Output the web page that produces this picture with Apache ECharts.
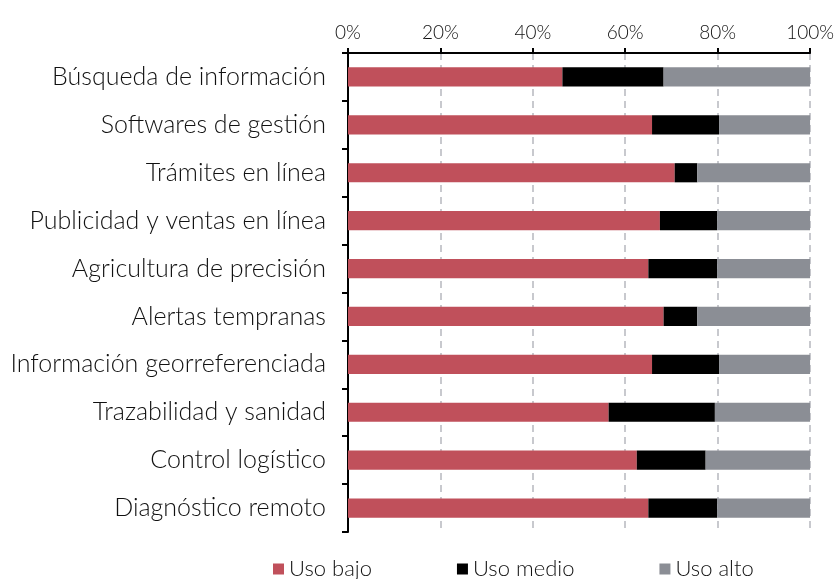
<!DOCTYPE html>
<html>
<head>
<meta charset="utf-8">
<script src="https://cdn.jsdelivr.net/npm/echarts@6/dist/echarts.min.js"></script>
<style>
  html, body { margin: 0; padding: 0; background: #ffffff; }
  #chart { width: 837px; height: 579px; }
</style>
</head>
<body>
<div id="chart"></div>
<script>
// Uso de herramientas digitales por tipo de aplicación (% de respuestas)
const categories = [
  'Búsqueda de información',
  'Softwares de gestión',
  'Trámites en línea',
  'Publicidad y ventas en línea',
  'Agricultura de precisión',
  'Alertas tempranas',
  'Información georreferenciada',
  'Trazabilidad y sanidad',
  'Control logístico',
  'Diagnóstico remoto'
];
const usoBajo  = [46.4, 65.8, 70.7, 67.5, 65.0, 68.3, 65.8, 56.4, 62.5, 65.0];
const usoMedio = [21.9, 14.5,  4.9, 12.4, 14.9,  7.3, 14.5, 23.0, 14.9, 14.9];
const usoAlto  = [31.7, 19.7, 24.4, 20.1, 20.1, 24.4, 19.7, 20.6, 22.6, 20.1];
const seriesNames = ['Uso bajo', 'Uso medio', 'Uso alto'];
const seriesColors = ['#c0505b', '#000000', '#8b8e95'];

const FONT = 'Lato, "Liberation Sans", sans-serif';
const WEIGHT = 300;
const TEXT = '#111111';

const chart = echarts.init(document.getElementById('chart'), null, { renderer: 'canvas' });

const values = [usoBajo, usoMedio, usoAlto];

chart.setOption({
  animation: false,
  backgroundColor: '#ffffff',
  grid: { left: 348, right: 26, top: 53, bottom: 47, containLabel: false },
  legend: {
    top: 553,
    left: 268,
    itemWidth: 11,
    itemHeight: 11,
    itemGap: 85,
    icon: 'rect',
    textStyle: { fontFamily: FONT, fontWeight: WEIGHT, fontSize: 22, color: TEXT },
    data: seriesNames
  },
  xAxis: {
    type: 'value',
    position: 'top',
    min: 0,
    max: 100,
    interval: 20,
    axisLine: { show: true, lineStyle: { color: '#000000', width: 2 } },
    axisTick: { show: true, inside: false, length: 5, lineStyle: { color: '#000000', width: 2 } },
    axisLabel: {
      formatter: '{value}%',
      fontFamily: FONT, fontWeight: WEIGHT, fontSize: 19, color: TEXT, margin: 11
    },
    splitLine: { show: true, lineStyle: { color: '#c8c9ce', type: [7, 5], width: 2 } }
  },
  yAxis: {
    type: 'category',
    inverse: true,
    data: categories,
    axisLine: { show: true, lineStyle: { color: '#000000', width: 2 } },
    axisTick: { show: true, inside: false, length: 6, lineStyle: { color: '#000000', width: 2 } },
    axisLabel: { fontFamily: FONT, fontWeight: WEIGHT, fontSize: 25, color: TEXT, margin: 22 }
  },
  series: seriesNames.map((name, i) => ({
    name,
    type: 'bar',
    stack: 'total',
    barWidth: '40%',
    itemStyle: { color: seriesColors[i] },
    data: values[i]
  }))
});
</script>
</body>
</html>
